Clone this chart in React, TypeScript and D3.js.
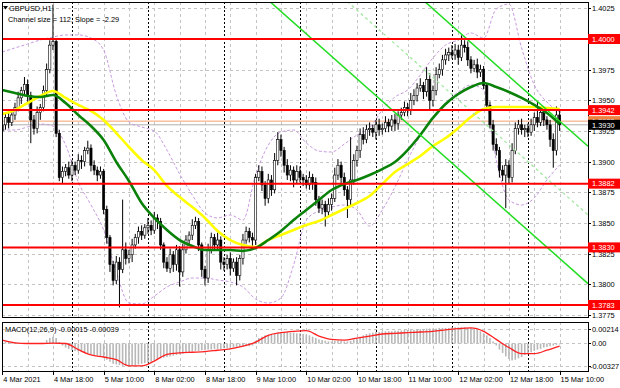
import React from "react";
import * as d3 from "d3";

// ---------- DATA ----------
const firstOpen = 1.3925;
const closes = [
  1.3930, 1.3936, 1.3932, 1.3938, 1.3944, 1.3952, 1.3958, 1.3963, 1.3954, 1.3934,
  1.3927, 1.3940, 1.3944, 1.3958, 1.3975, 1.3995, 1.3998, 1.3923, 1.3887, 1.3892,
  1.3895, 1.3889, 1.3897, 1.3893, 1.3901, 1.3900, 1.3909, 1.3911, 1.3897, 1.3893,
  1.3889, 1.3892, 1.3861, 1.3838, 1.3816, 1.3803, 1.3818, 1.3812, 1.3828, 1.3821,
  1.3824, 1.3832, 1.3838, 1.3843, 1.3840, 1.3846, 1.3848, 1.3844, 1.3854, 1.3851,
  1.3832, 1.3818, 1.3813, 1.3824, 1.3816, 1.3828, 1.3810, 1.3828, 1.3836, 1.3840,
  1.3848, 1.3851, 1.3832, 1.3812, 1.3805, 1.3828, 1.3838, 1.3832, 1.3836, 1.3818,
  1.3816, 1.3821, 1.3813, 1.3818, 1.3807, 1.3821, 1.3836, 1.3843, 1.3838, 1.3836,
  1.3887, 1.3892, 1.3881, 1.3870, 1.3885, 1.3877, 1.3901, 1.3918, 1.3909, 1.3897,
  1.3889, 1.3893, 1.3885, 1.3892, 1.3887, 1.3885, 1.3881, 1.3887, 1.3883, 1.3869,
  1.3862, 1.3865, 1.3859, 1.3865, 1.3870, 1.3889, 1.3897, 1.3887, 1.3877, 1.3869,
  1.3885, 1.3901, 1.3909, 1.3922, 1.3918, 1.3926, 1.3927, 1.3924, 1.3930, 1.3926,
  1.3927, 1.3932, 1.3929, 1.3934, 1.3931, 1.3938, 1.3940, 1.3944, 1.3942, 1.3950,
  1.3954, 1.3960, 1.3962, 1.3957, 1.3967, 1.3950, 1.3958, 1.3971, 1.3975, 1.3983,
  1.3987, 1.3989, 1.3987, 1.3991, 1.3985, 1.3995, 1.3993, 1.3983, 1.3976, 1.3979,
  1.3973, 1.3975, 1.3962, 1.3946, 1.3930, 1.3914, 1.3909, 1.3893, 1.3889, 1.3897,
  1.3887, 1.3909, 1.3927, 1.3930, 1.3926, 1.3927, 1.3924, 1.3930, 1.3936, 1.3932,
  1.3940, 1.3934, 1.3930, 1.3918, 1.3909, 1.3938, 1.3930,
];
// wick lengths beyond the body, in pips
const upperWickPips = [
  4, 3, 5, 3, 4, 5, 3, 6, 4, 3, 4, 5, 3, 4, 5, 4, 30, 2, 3, 4,
  3, 5, 4, 3, 5, 4, 3, 6, 3, 4, 3, 4, 2, 3, 2, 3, 5, 4, 41, 6,
  4, 5, 3, 4, 5, 3, 6, 4, 5, 3, 3, 2, 4, 5, 3, 4, 3, 5, 4, 3,
  5, 4, 3, 2, 3, 5, 4, 3, 6, 3, 4, 3, 5, 3, 4, 3, 5, 4, 3, 4,
  3, 5, 4, 3, 5, 4, 6, 6, 4, 3, 5, 4, 3, 5, 4, 3, 4, 5, 3, 4,
  3, 4, 3, 5, 4, 6, 5, 3, 4, 3, 35, 5, 4, 5, 6, 4, 5, 3, 4, 5,
  4, 5, 3, 4, 5, 3, 4, 5, 4, 6, 5, 4, 6, 3, 10, 5, 4, 6, 5, 4,
  5, 4, 6, 5, 4, 8, 4, 5, 3, 4, 5, 4, 3, 2, 3, 4, 5, 3, 4, 5,
  4, 6, 5, 4, 5, 3, 4, 5, 4, 13, 5, 4, 3, 4, 5, 7, 4,
];
const lowerWickPips = [
  6, 4, 5, 3, 4, 3, 5, 4, 6, 19, 5, 4, 6, 3, 4, 3, 4, 3, 3, 5,
  4, 3, 5, 4, 3, 6, 4, 3, 5, 4, 5, 3, 4, 5, 6, 4, 3, 31, 3, 5,
  4, 6, 3, 5, 4, 3, 5, 4, 3, 6, 4, 5, 3, 4, 6, 5, 12, 4, 3, 5,
  4, 3, 5, 6, 6, 4, 3, 5, 4, 6, 5, 4, 6, 3, 8, 4, 5, 3, 4, 5,
  4, 3, 5, 6, 4, 5, 3, 4, 5, 6, 4, 5, 6, 3, 4, 5, 3, 4, 6, 5,
  4, 5, 12, 4, 5, 3, 4, 6, 5, 15, 5, 4, 5, 6, 4, 3, 5, 4, 6, 5,
  4, 3, 5, 4, 6, 5, 4, 3, 5, 4, 4, 5, 3, 6, 4, 8, 5, 4, 3, 5,
  4, 5, 3, 4, 6, 3, 4, 5, 4, 3, 5, 4, 3, 4, 3, 5, 4, 6, 5, 27,
  5, 4, 3, 5, 4, 6, 4, 3, 5, 4, 3, 5, 4, 6, 14, 4, 5,
];

// indicator lines, one reading every `sampleStep` bars
const sampleStep = 4;
const maGreen = [
  1.39584, 1.3956, 1.39535, 1.39527, 1.39543, 1.39478, 1.3938, 1.3929, 1.39176, 1.38997,
  1.38842, 1.38662, 1.3854, 1.38442, 1.3836, 1.38311, 1.38279, 1.38279, 1.38279, 1.38271,
  1.38295, 1.3836, 1.38434, 1.38523, 1.38605, 1.38687, 1.38768, 1.38817, 1.3885, 1.38891,
  1.38939, 1.38997, 1.39094, 1.39217, 1.39356, 1.3947, 1.39551, 1.39608, 1.39641, 1.39608,
  1.39568, 1.39519, 1.39462, 1.39396, 1.39307,
];
const maYellow = [
  1.39388, 1.39421, 1.39478, 1.39535, 1.39576, 1.39519, 1.39462, 1.39413, 1.39339, 1.39233,
  1.39119, 1.39013, 1.38931, 1.38801, 1.38711, 1.38629, 1.3854, 1.38434, 1.3836, 1.38319,
  1.38303, 1.3836, 1.38401, 1.38442, 1.38483, 1.38515, 1.38564, 1.38613, 1.38662, 1.38719,
  1.38817, 1.38915, 1.3898, 1.39046, 1.39127, 1.39192, 1.39274, 1.39364, 1.39429, 1.39445,
  1.39445, 1.39445, 1.39445, 1.39437, 1.39429,
];
const bbUpper = [
  1.39894, 1.39927, 1.39959, 1.39992, 1.40016, 1.40033, 1.40033, 1.40008, 1.3991, 1.39543,
  1.39323, 1.39282, 1.39249, 1.39094, 1.38899, 1.38727, 1.38581, 1.3854, 1.38564, 1.38523,
  1.38891, 1.39135, 1.39241, 1.39258, 1.39152, 1.39086, 1.39078, 1.39143, 1.39217, 1.39274,
  1.39421, 1.39527, 1.39584, 1.39706, 1.39845, 1.39951, 1.39992, 1.40049, 1.40008, 1.40244,
  1.40285, 1.39927, 1.39625, 1.39486, 1.39404,
];
const bbLower = [
  1.39258, 1.39258, 1.39282, 1.39307, 1.3929, 1.39135, 1.38833, 1.38646, 1.38442, 1.38099,
  1.37846, 1.37838, 1.37903, 1.37977, 1.38018, 1.3805, 1.3805, 1.38034, 1.38018, 1.37977,
  1.37879, 1.37846, 1.37887, 1.38156, 1.38523, 1.38597, 1.38629, 1.38646, 1.38605, 1.38474,
  1.38605, 1.38793, 1.39013, 1.39209, 1.39356, 1.39478, 1.39568, 1.39625, 1.39584, 1.39013,
  1.38687, 1.38646, 1.38703, 1.3885, 1.38972,
];

// MACD(12,26,9), in units of 0.001
const macdMain = [
  0.35, 0.3, 0.25, 0.2, 0.15, 0.1, 0.05, 0.02, 0, -0.03, -0.05, -0.03, 0, 0.1,
  0.5, 0.8, 1.0, 0.8,
  0.2, -0.3, -0.6, -0.8, -1.0,
  -1.1, -1.2, -1.3, -1.4, -1.5, -1.6, -1.7, -1.8, -1.9,
  -2.1, -2.4, -2.7, -3.0, -3.1, -3.2, -3.3, -3.3, -3.4, -3.3,
  -3.2, -3.1, -3.0, -2.9, -2.8, -2.7,
  -2.5, -2.3, -2.2, -2.1, -2.0, -1.9, -1.8, -1.7, -1.6, -1.5,
  -1.4, -1.3, -1.2, -1.1, -1.1, -1.0, -1.0, -0.9, -0.9, -0.8, -0.8, -0.8, -0.7, -0.7, -0.7, -0.6,
  -0.6, -0.5, -0.5, -0.4, -0.4, -0.3,
  0.4, 0.8, 1.0, 1.2, 1.3,
  1.4, 1.5, 1.6, 1.7, 1.7, 1.7, 1.6, 1.6, 1.5, 1.5, 1.4, 1.3,
  1.2, 1.0, 0.8, 0.6, 0.5, 0.4, 0.3, 0.3,
  0.4, 0.4, 0.4, 0.3, 0.3, 0.4,
  0.6, 0.8, 1.0, 1.2, 1.4, 1.5, 1.6,
  1.7, 1.7, 1.8, 1.8, 1.8, 1.8, 1.9, 1.9, 1.9, 2.0, 2.0, 2.0, 2.0, 2.1, 2.1, 2.1, 2.2, 2.2, 2.2, 2.2, 2.3, 2.3, 2.3, 2.3,
  2.4, 2.4, 2.4, 2.4, 2.4, 2.3, 2.3, 2.2,
  2.0, 1.8, 1.5, 1.2, 0.8,
  0.3, -0.3,
  -0.9, -1.4, -1.9, -2.3, -2.5,
  -2.4, -2.2, -2.0, -1.7, -1.5, -1.3, -1.1, -0.9, -0.8,
  -0.6, -0.5, -0.4, -0.3, -0.2, -0.15,
];
// signal line, one reading every `sampleStep` bars, units of 0.001
const macdSignal = [
  0.5, 0.1, 0, 0, 0.05, 0.0, -0.9, -1.7, -2.0, -2.4,
  -3.3, -3.3, -2.6, -1.6, -1.4, -1.3, -1.2, -1.0, -0.8, -0.4,
  0.2, 1.2, 1.6, 1.8, 1.9, 1.1, 0.6, 0.5, 0.8, 1.1,
  1.4, 1.5, 1.6, 1.7, 1.8, 2.0, 2.2, 2.3, 1.8, 0.6,
  -0.6, -1.5, -1.5, -1.0, -0.39,
];

const priceTicks = [1.4025, 1.4, 1.3975, 1.395, 1.3925, 1.39, 1.3875, 1.385, 1.3825, 1.38, 1.3775];
const levels = [1.4, 1.3942, 1.3882, 1.383, 1.3783];
const askPrice = 1.3933;
const bidPrice = 1.393;
const macdTicks = [0.00214, 0, -0.00327];
const macdTickLabels = ["0.00214", "0.00", "-0.00327"];
const timeLabels = [
  "4 Mar 2021", "4 Mar 18:00", "5 Mar 10:00", "8 Mar 02:00", "8 Mar 18:00", "9 Mar 10:00",
  "10 Mar 02:00", "10 Mar 18:00", "11 Mar 10:00", "12 Mar 02:00", "12 Mar 18:00", "15 Mar 10:00",
];
const labelEvery = 16;
const gridEvery = 8;
const daySeparators = [22, 46, 70, 94, 118, 142, 166];
const channelSizePips = 112;
const channelSlopePips = -2.29;
const channelStartBar = 65;
const channelMidAtLast = 1.3877;

// ---------- LAYOUT ----------
const W = 620;
const H = 388;
const PL = 2;
const PR = 588;
const PT = 2;
const PB = 317;
const MT = 322;
const MB = 371;
const FONT = "'Liberation Sans', Arial, sans-serif";
const FS = 7.4;
const pip = 0.0001;
const mUnit = 0.001;

export default function App() {
  const n = closes.length;
  const last = n - 1;
  const x = d3.scaleLinear().domain([0, last]).range([2.3, 559.6]);
  const y = d3.scaleLinear().domain([1.4, 1.3783]).range([39, 305]);
  const my = d3.scaleLinear().domain([0.00214, -0.00327]).range([329, 365.6]);

  const sampleLine = (vals: number[], sy: (v: number) => number) =>
    d3
      .line<number>()
      .x((_, k) => x(k * sampleStep))
      .y((v) => sy(v))
      .curve(d3.curveMonotoneX)(vals) || "";

  const gridBars = d3.range(0, n, gridEvery);
  const labelBars = d3.range(0, n, labelEvery);
  const xRightBar = x.invert(PR);

  const chan = (off: number) => {
    const p = (i: number) => channelMidAtLast + channelSlopePips * pip * (i - last) + off;
    return { x1: x(channelStartBar), y1: y(p(channelStartBar)), x2: PR, y2: y(p(xRightBar)) };
  };
  const half = (channelSizePips / 2) * pip;
  const cUp = chan(half);
  const cMid = chan(0);
  const cLo = chan(-half);

  const box = (val: number, label: string, fill: string, key: string) => (
    <g key={key}>
      <rect x={PR} y={y(val) - 5} width={W - PR} height={10} fill={fill} />
      <text x={PR + 4} y={y(val) + 2.8} fill="#fff" fontSize={FS} fontFamily={FONT}>
        {label}
      </text>
    </g>
  );

  return (
    <svg
      width={W}
      height={H}
      viewBox={`0 0 ${W} ${H}`}
      style={{ position: "absolute", left: 0, top: 0, background: "#fff" }}
    >
      <defs>
        <clipPath id="main">
          <rect x={PL} y={PT} width={PR - PL} height={PB - PT} />
        </clipPath>
        <clipPath id="macd">
          <rect x={PL} y={MT} width={PR - PL} height={MB - MT} />
        </clipPath>
      </defs>
      <rect x={0} y={0} width={W} height={H} fill="#fff" />

      {/* grid */}
      <g stroke="#c4c4c4" strokeWidth={1} strokeDasharray="3,3">
        {priceTicks.map((p) => (
          <line key={p} x1={PL} x2={PR} y1={Math.round(y(p)) + 0.5} y2={Math.round(y(p)) + 0.5} />
        ))}
        {macdTicks.map((p) => (
          <line key={p} x1={PL} x2={PR} y1={Math.round(my(p)) + 0.5} y2={Math.round(my(p)) + 0.5} />
        ))}
        {gridBars.map((b) => (
          <g key={b}>
            <line x1={Math.round(x(b)) + 0.5} x2={Math.round(x(b)) + 0.5} y1={PT} y2={PB} />
            <line x1={Math.round(x(b)) + 0.5} x2={Math.round(x(b)) + 0.5} y1={MT} y2={MB} />
          </g>
        ))}
      </g>
      <g stroke="#000" strokeWidth={1} strokeDasharray="2,2">
        {daySeparators.map((b) => (
          <g key={b}>
            <line x1={Math.round(x(b)) + 0.5} x2={Math.round(x(b)) + 0.5} y1={PT} y2={PB} />
            <line x1={Math.round(x(b)) + 0.5} x2={Math.round(x(b)) + 0.5} y1={MT} y2={MB} />
          </g>
        ))}
      </g>

      <g clipPath="url(#main)">
        {/* ask / bid lines */}
        <line x1={PL} x2={PR} y1={y(askPrice)} y2={y(askPrice)} stroke="#f4a070" strokeWidth={1} />
        <line x1={PL} x2={PR} y1={y(bidPrice)} y2={y(bidPrice)} stroke="#b0b0b0" strokeWidth={1} />

        {/* Bollinger bands */}
        <path d={sampleLine(bbUpper, y)} fill="none" stroke="#c89ae0" strokeWidth={1} strokeDasharray="3,2" />
        <path d={sampleLine(bbLower, y)} fill="none" stroke="#c89ae0" strokeWidth={1} strokeDasharray="3,2" />

        {/* candles */}
        {closes.map((c, i) => {
          const o = i === 0 ? firstOpen : closes[i - 1];
          const hi = Math.max(o, c) + upperWickPips[i] * pip;
          const lo = Math.min(o, c) - lowerWickPips[i] * pip;
          const cx = x(i);
          const yTop = y(Math.max(o, c));
          const yBot = y(Math.min(o, c));
          const bull = c >= o;
          return (
            <g key={i}>
              <line x1={cx} x2={cx} y1={y(hi)} y2={y(lo)} stroke="#000" strokeWidth={1} />
              <rect
                x={cx - 1.1}
                y={yTop}
                width={2.2}
                height={Math.max(0.8, yBot - yTop)}
                fill={bull ? "#fff" : "#000"}
                stroke="#000"
                strokeWidth={0.6}
              />
            </g>
          );
        })}

        {/* moving averages */}
        <path d={sampleLine(maYellow, y)} fill="none" stroke="#ffff00" strokeWidth={2.6} />
        <path d={sampleLine(maGreen, y)} fill="none" stroke="#0a820a" strokeWidth={2.6} />

        {/* regression channel */}
        <line {...cUp} stroke="#22dd22" strokeWidth={1.5} />
        <line {...cLo} stroke="#22dd22" strokeWidth={1.5} />
        <line {...cMid} stroke="#9be89b" strokeWidth={1.2} strokeDasharray="3,3" />

        {/* support / resistance levels */}
        {levels.map((p) => (
          <line key={p} x1={PL} x2={PR} y1={y(p)} y2={y(p)} stroke="#ff0000" strokeWidth={2} />
        ))}
      </g>

      {/* MACD */}
      <g clipPath="url(#macd)">
        {macdMain.map((v, i) => {
          const y0 = my(0);
          const y1 = my(v * mUnit);
          return (
            <rect
              key={i}
              x={x(i) - 0.8}
              y={Math.min(y0, y1)}
              width={1.6}
              height={Math.max(0.3, Math.abs(y1 - y0))}
              fill="#b8b8b8"
            />
          );
        })}
        <path
          d={sampleLine(macdSignal, (v) => my(v * mUnit))}
          fill="none"
          stroke="#ff2020"
          strokeWidth={1.3}
        />
      </g>

      {/* frames */}
      <rect x={PL + 0.5} y={PT + 0.5} width={PR - PL} height={PB - PT} fill="none" stroke="#000" strokeWidth={1} />
      <rect x={PL + 0.5} y={MT + 0.5} width={PR - PL} height={MB - MT} fill="none" stroke="#000" strokeWidth={1} />

      {/* price axis */}
      <g fontFamily={FONT} fontSize={FS} fill="#000">
        {priceTicks.map((p) => (
          <g key={p}>
            <line x1={PR} x2={PR + 3} y1={Math.round(y(p)) + 0.5} y2={Math.round(y(p)) + 0.5} stroke="#000" />
            <text x={PR + 4} y={y(p) + 3}>
              {p.toFixed(4)}
            </text>
          </g>
        ))}
        {macdTicks.map((p, k) => (
          <g key={p}>
            <line x1={PR} x2={PR + 3} y1={Math.round(my(p)) + 0.5} y2={Math.round(my(p)) + 0.5} stroke="#000" />
            <text x={PR + (p < 0 ? 2 : 4)} y={my(p) + 3}>
              {macdTickLabels[k]}
            </text>
          </g>
        ))}
      </g>
      {levels.map((p) => box(p, p.toFixed(4), "#ff0000", "lv" + p))}
      {box(askPrice, askPrice.toFixed(4), "#f08040", "ask")}
      {box(bidPrice, bidPrice.toFixed(4), "#000", "bid")}

      {/* time axis */}
      <g fontFamily={FONT} fontSize={FS} fill="#000">
        {labelBars.map((b, k) => (
          <g key={b}>
            <line x1={Math.round(x(b)) + 0.5} x2={Math.round(x(b)) + 0.5} y1={MB} y2={MB + 4} stroke="#000" />
            <text x={x(b) + 1} y={382}>
              {timeLabels[k]}
            </text>
          </g>
        ))}
      </g>

      {/* titles */}
      <path d="M3,6 L8,6 L5.5,9.5 Z" fill="#000" />
      <text x={9} y={11} fontFamily={FONT} fontSize={FS} fill="#000">
        GBPUSD,H1
      </text>
      <text x={8} y={21.5} fontFamily={FONT} fontSize={FS} fill="#000">
        Channel size = 112, Slope = -2.29
      </text>
      <text x={5} y={332} fontFamily={FONT} fontSize={FS} fill="#000">
        MACD(12,26,9) -0.00015 -0.00039
      </text>
    </svg>
  );
}
